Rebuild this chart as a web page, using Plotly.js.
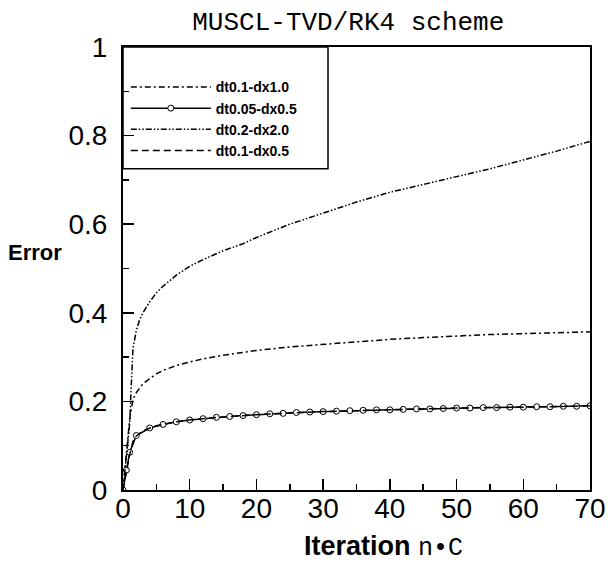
<!DOCTYPE html>
<html>
<head>
<meta charset="utf-8">
<script src="https://cdn.plot.ly/plotly-3.0.1.min.js"></script>
<style>html,body{margin:0;padding:0;background:#fff;}#chart{width:610px;height:565px;}</style>
</head>
<body>
<div id="chart"></div>
<script>
// Series names
const seriesNames = ["dt0.1-dx1.0", "dt0.05-dx0.5", "dt0.2-dx2.0", "dt0.1-dx0.5"];

// dt0.1-dx1.0 (dash-dot, middle curve)
const xA = [0, 0.5, 1, 1.5, 2, 3, 4, 5, 6, 8, 10, 12, 15, 18, 20, 25, 30, 35, 40, 45, 50, 55, 60, 65, 70];
const yA = [0, 0.08, 0.16, 0.205, 0.22, 0.24, 0.252, 0.262, 0.27, 0.281, 0.289, 0.296, 0.304, 0.311, 0.315, 0.323, 0.329, 0.335, 0.34, 0.344, 0.348, 0.351, 0.353, 0.355, 0.357];

// dt0.05-dx0.5 (solid with open circles)
const xB = [0, 0.5, 1, 2, 4, 6, 8, 10, 12, 14, 16, 18, 20, 22, 24, 26, 28, 30, 32, 34, 36, 38, 40, 42, 44, 46, 48, 50, 52, 54, 56, 58, 60, 62, 64, 66, 68, 70];
const yB = [0, 0.045, 0.085, 0.123, 0.14, 0.148, 0.154, 0.158, 0.161, 0.164, 0.166, 0.168, 0.17, 0.172, 0.173, 0.175, 0.176, 0.177, 0.178, 0.179, 0.18, 0.181, 0.181, 0.182, 0.183, 0.183, 0.184, 0.185, 0.185, 0.186, 0.186, 0.187, 0.187, 0.188, 0.188, 0.189, 0.189, 0.19];

// dt0.2-dx2.0 (dash-dot-dot, top curve)
const xC = [0, 0.5, 1, 1.25, 1.5, 2, 2.5, 3, 4, 5, 6, 8, 10, 12, 15, 18, 20, 25, 30, 35, 40, 45, 50, 55, 60, 65, 70];
const yC = [0, 0.07, 0.15, 0.24, 0.32, 0.36, 0.385, 0.40, 0.425, 0.445, 0.46, 0.485, 0.505, 0.52, 0.54, 0.556, 0.57, 0.60, 0.625, 0.65, 0.672, 0.69, 0.708, 0.725, 0.745, 0.765, 0.787];

// dt0.1-dx0.5 (dashed)
const xD = [0, 0.5, 1, 1.5, 2, 3, 4, 5, 6, 8, 10, 15, 20, 25, 30, 40, 50, 60, 70];
const yD = [0, 0.04, 0.08, 0.11, 0.122, 0.134, 0.14, 0.145, 0.148, 0.154, 0.158, 0.165, 0.17, 0.174, 0.177, 0.181, 0.185, 0.187, 0.19];

// Axis ticks
const xTicks = [0, 10, 20, 30, 40, 50, 60, 70];
const xTickLabels = ["0", "10", "20", "30", "40", "50", "60", "70"];
const yTicks = [0, 0.2, 0.4, 0.6, 0.8, 1];
const yTickLabels = ["0", "0.2", "0.4", "0.6", "0.8", "1"];

const chartTitle = "MUSCL-TVD/RK4 scheme";
const xTitleMain = "Iteration";
const xTitleUnit = "n\u2022C";
const yTitle = "Error";

const traces = [
  {x: xA, y: yA, name: seriesNames[0], mode: "lines",
   line: {color: "#000", width: 1.5, dash: "6px,3px,2px,3px"}},
  {x: xB, y: yB, name: seriesNames[1], mode: "lines+markers",
   line: {color: "#000", width: 1.5},
   marker: {symbol: "circle", size: 6, color: "#fff", line: {color: "#000", width: 1}}},
  {x: xC, y: yC, name: seriesNames[2], mode: "lines",
   line: {color: "#000", width: 1.5, dash: "6px,2px,1.5px,2px,1.5px,2px"}},
  {x: xD, y: yD, name: seriesNames[3], mode: "lines",
   line: {color: "#000", width: 1.5, dash: "7px,4px"}}
];

const tickFont = {family: "Liberation Sans, Arial, sans-serif", size: 28, color: "#000"};

const layout = {
  width: 610, height: 565,
  margin: {l: 123, r: 20, t: 47, b: 75},
  paper_bgcolor: "#fff", plot_bgcolor: "#fff",
  title: {text: chartTitle, font: {family: "Liberation Mono, Courier New, monospace", size: 26, color: "#000"},
          x: 0.571, xanchor: "center", yref: "container", y: 0.963, yanchor: "middle"},
  xaxis: {
    range: [0, 70], tickvals: xTicks, ticktext: xTickLabels,
    ticks: "inside", ticklen: 11, tickwidth: 1.5, tickcolor: "#000",
    minor: {ticks: "inside", ticklen: 6, tickwidth: 1.5, dtick: 5, tickcolor: "#000"},
    showline: true, linewidth: 2, linecolor: "#000", mirror: true,
    showgrid: false, zeroline: false, tickfont: tickFont, ticklabelstandoff: -8
  },
  yaxis: {
    range: [0, 1], tickvals: yTicks, ticktext: yTickLabels,
    ticks: "inside", ticklen: 11, tickwidth: 1.5, tickcolor: "#000",
    minor: {ticks: "inside", ticklen: 6, tickwidth: 1.5, dtick: 0.1, tickcolor: "#000"},
    showline: true, linewidth: 2, linecolor: "#000", mirror: true,
    showgrid: false, zeroline: false, tickfont: tickFont, ticklabelstandoff: 8
  },
  showlegend: true,
  legend: {x: 0.006, xanchor: "left", y: 0.945, yanchor: "top",
           bgcolor: "rgba(0,0,0,0)", borderwidth: 0, itemwidth: 80,
           font: {family: "Liberation Sans, Arial, sans-serif", size: 14, color: "#000", weight: "bold"}},
  shapes: [{type: "rect", xref: "paper", yref: "paper", x0: 0, x1: 0.439, y0: 0.725, y1: 1,
            line: {color: "#000", width: 1.5}, fillcolor: "rgba(0,0,0,0)"}],
  annotations: [
    {text: "<b>" + yTitle + "</b>", xref: "paper", yref: "paper", x: -0.188, y: 0.535,
     showarrow: false, xanchor: "center", yanchor: "middle",
     font: {family: "Liberation Sans, Arial, sans-serif", size: 22, color: "#000"}},
    {text: "<b>" + xTitleMain + "</b> <span style=\"font-family:Liberation Mono, Courier New, monospace;font-size:25px\">" + xTitleUnit + "</span>",
     xref: "paper", yref: "paper", x: 0.384, y: -0.128, xanchor: "left", yanchor: "middle",
     showarrow: false, font: {family: "Liberation Sans, Arial, sans-serif", size: 27, color: "#000"}}
  ]
};

Plotly.newPlot("chart", traces, layout, {staticPlot: true, displayModeBar: false});
</script>
</body>
</html>
